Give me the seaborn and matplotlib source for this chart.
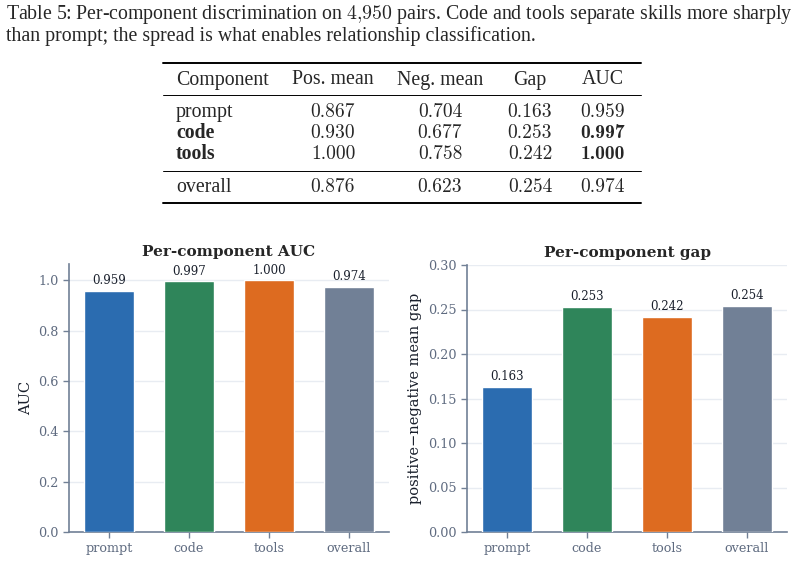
import matplotlib
matplotlib.use("Agg")
import matplotlib.pyplot as plt
from matplotlib.lines import Line2D
import seaborn as sns
import pandas as pd

# ---------------- data ----------------
components = ["prompt", "code", "tools", "overall"]
pos_mean = [0.867, 0.930, 1.000, 0.876]
neg_mean = [0.704, 0.677, 0.758, 0.623]
gap = [0.163, 0.253, 0.242, 0.254]
auc = [0.959, 0.997, 1.000, 0.974]
bold_rows = ["code", "tools"]
bold_auc = ["code", "tools"]
header = ["Component", "Pos. mean", "Neg. mean", "Gap", "AUC"]
caption_lines = [
    "Table 5: Per-component discrimination on $4{,}950$ pairs. Code and tools separate skills more sharply",
    "than prompt; the spread is what enables relationship classification.",
]
colors = {"prompt": "#2b6cb0", "code": "#2f855a", "tools": "#dd6b20", "overall": "#718096"}

df = pd.DataFrame({"component": components, "auc": auc, "gap": gap})

sns.set_theme(style="white")
plt.rcParams["font.family"] = ["DejaVu Serif"]
plt.rcParams["mathtext.fontset"] = "cm"

W, H = 804, 562
fig = plt.figure(figsize=(W / 100, H / 100), dpi=100)

def fx(px):
    return px / W

def fy(py):
    return 1 - py / H

SERIF = ["Liberation Serif"]

# ---------------- caption ----------------
cap_fs = 14.3
fig.text(fx(6), fy(18.5), caption_lines[0], family=SERIF, fontsize=cap_fs, va="baseline", ha="left")
fig.text(fx(6), fy(40.5), caption_lines[1], family=SERIF, fontsize=cap_fs, va="baseline", ha="left")

# ---------------- table ----------------
tab_fs = 14.3
num_fs = 14.0
rule_x0, rule_x1 = 163, 641
for y, lw in [(62.5, 1.4), (95, 0.7), (171, 0.7), (202.5, 1.4)]:
    fig.add_artist(Line2D([fx(rule_x0), fx(rule_x1)], [fy(y), fy(y)], transform=fig.transFigure,
                          color="black", lw=lw))
col_x = [176, 333, 440, 530, 603]
hb = 84.5
fig.text(fx(col_x[0]), fy(hb), header[0], family=SERIF, fontsize=tab_fs, va="baseline", ha="left")
for j in range(1, 5):
    fig.text(fx(col_x[j]), fy(hb), header[j], family=SERIF, fontsize=tab_fs, va="baseline", ha="center")

row_base = [117, 138, 159, 192]
for i, comp in enumerate(components):
    yb = fy(row_base[i])
    fig.text(fx(col_x[0]), yb, comp, family=SERIF, fontsize=tab_fs, va="baseline", ha="left",
             fontweight="bold" if comp in bold_rows else "normal")
    vals = [pos_mean[i], neg_mean[i], gap[i], auc[i]]
    for j, v in enumerate(vals):
        fam = "cmb10" if (j == 3 and comp in bold_auc) else "cmr10"
        fig.text(fx(col_x[j + 1]), yb, f"{v:.3f}", family=[fam], fontsize=num_fs,
                 va="baseline", ha="center")

# ---------------- charts ----------------
spine_c = "#718096"
tick_c = "#5f6b80"
ax1 = fig.add_axes([fx(69), fy(532), fx(320), (532 - 264) / H])
ax2 = fig.add_axes([fx(467), fy(532), fx(320), (532 - 265) / H])

def style(ax, ycol, title, ylabel, ylim, ticks, fmt):
    sns.barplot(data=df, x="component", y=ycol, hue="component", palette=colors,
                order=components, hue_order=components, width=0.62, legend=False,
                saturation=1, ax=ax, zorder=3)
    ax.set_ylim(*ylim)
    ax.set_xlim(-0.5, 3.5)
    ax.set_yticks(ticks)
    ax.set_yticklabels([fmt.format(t) for t in ticks])
    ax.set_xlabel("")
    ax.set_ylabel(ylabel, fontsize=10.5, color="#1a202c")
    ax.set_title(title, fontsize=11, fontweight="bold", pad=6)
    ax.yaxis.grid(True, color="#e8ecf2", lw=1.0, zorder=0)
    ax.set_axisbelow(True)
    for s in ["top", "right"]:
        ax.spines[s].set_visible(False)
    for s in ["left", "bottom"]:
        ax.spines[s].set_color(spine_c)
        ax.spines[s].set_linewidth(1.2)
    ax.tick_params(axis="both", colors=spine_c, labelcolor=tick_c, labelsize=9.2,
                   length=4, width=1.0, left=True, bottom=True)
    for c in ax.containers:
        ax.bar_label(c, fmt="%.3f", padding=2.5, fontsize=8.5, color="#1a202c")

style(ax1, "auc", "Per-component AUC", "AUC", (0, 1.065), [0, 0.2, 0.4, 0.6, 0.8, 1.0], "{:.1f}")
style(ax2, "gap", "Per-component gap", "positive\u2212negative mean gap", (0, 0.30),
      [0, 0.05, 0.10, 0.15, 0.20, 0.25, 0.30], "{:.2f}")

fig.savefig("out.png", dpi=100)
